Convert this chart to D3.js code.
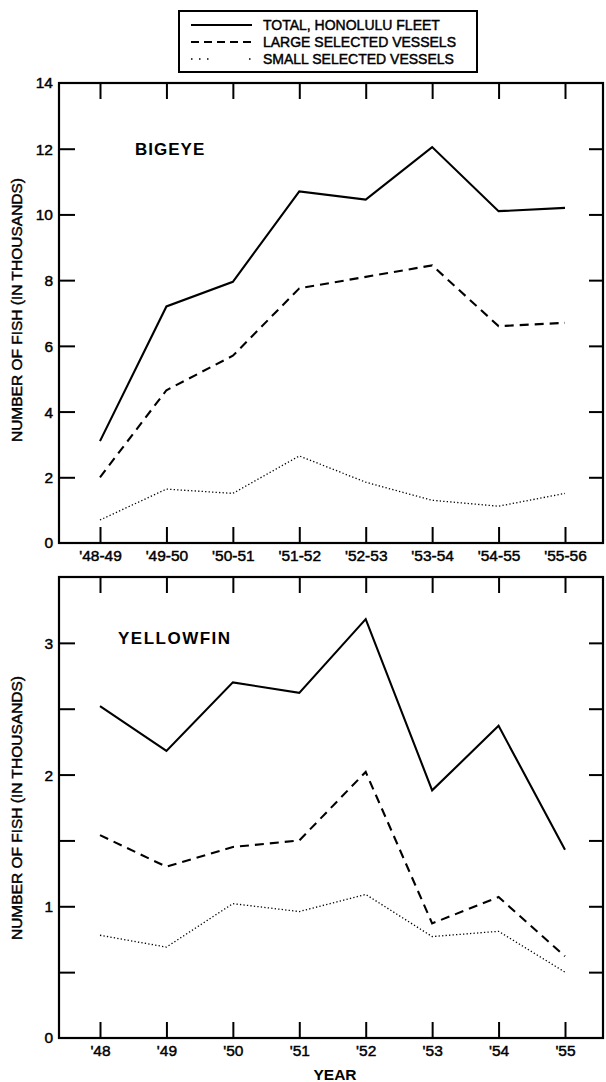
<!DOCTYPE html>
<html>
<head>
<meta charset="utf-8">
<script src="https://cdn.jsdelivr.net/npm/d3@7"></script>
<style>
  html, body { margin: 0; padding: 0; background: #fff; }
  svg { display: block; }
  text { font-family: "Liberation Sans", Arial, sans-serif; fill: #000; }
  .lettering { stroke: #000; stroke-width: 0.45px; }
</style>
</head>
<body>
<script>
// Season labels (bigeye) and calendar years (yellowfin)
const seasons = ["'48-49", "'49-50", "'50-51", "'51-52", "'52-53", "'53-54", "'54-55", "'55-56"];
const years = ["'48", "'49", "'50", "'51", "'52", "'53", "'54", "'55"];

// Bigeye catch, thousands of fish
const bigeyeTotal = [3.1, 7.2, 7.95, 10.7, 10.45, 12.05, 10.1, 10.2];
const bigeyeLarge = [2.0, 4.65, 5.7, 7.75, 8.1, 8.45, 6.6, 6.7];
const bigeyeSmall = [0.7, 1.64, 1.51, 2.65, 1.85, 1.3, 1.12, 1.51];

// Yellowfin catch, thousands of fish
const yellowfinTotal = [2.52, 2.18, 2.7, 2.62, 3.18, 1.88, 2.37, 1.43];
const yellowfinLarge = [1.54, 1.3, 1.45, 1.5, 2.02, 0.87, 1.07, 0.62];
const yellowfinSmall = [0.78, 0.69, 1.02, 0.96, 1.09, 0.77, 0.81, 0.5];

// Axis ticks
const bigeyeTicks = [0, 2, 4, 6, 8, 10, 12, 14];
const yellowfinTicks = [0, 0.5, 1, 1.5, 2, 2.5, 3];
const yellowfinTickLabels = { 0: "0", 1: "1", 2: "2", 3: "3" };

const legendItems = [
  { label: "TOTAL, HONOLULU FLEET", style: "solid" },
  { label: "LARGE SELECTED VESSELS", style: "dashed" },
  { label: "SMALL SELECTED VESSELS", style: "dotted" }
];

const W = 606, H = 1082;
const svg = d3.select("body").append("svg").attr("width", W).attr("height", H);

const frameLeft = 59, frameRight = 603;
const x = d3.scaleLinear().domain([0, 7]).range([100, 565]);

const lineStyles = {
  solid:  { width: 2.1, dash: null },
  dashed: { width: 2.1, dash: "9,6" },
  dotted: { width: 1.3, dash: "1.3,2.2" }
};

function panel(opts) {
  const { top, bottom, yMax, ticks, tickLabel, cats, series, title, titleX, titleY, titleSpacing, yLabelY } = opts;
  const y = d3.scaleLinear().domain([0, yMax]).range([bottom, top]);
  const g = svg.append("g");

  // frame
  g.append("rect")
    .attr("x", frameLeft).attr("y", top)
    .attr("width", frameRight - frameLeft).attr("height", bottom - top)
    .attr("fill", "none").attr("stroke", "#000").attr("stroke-width", 2.2);

  // left axis: inward ticks with labels
  const left = d3.axisLeft(y).tickValues(ticks.filter(t => t > 0 && t < yMax))
    .tickSizeInner(-16).tickSizeOuter(0).tickPadding(0).tickFormat(tickLabel);
  const la = g.append("g").attr("transform", `translate(${frameLeft},0)`).call(left);
  la.select(".domain").remove();
  la.selectAll("line").attr("stroke-width", 2);
  la.selectAll("text").attr("x", -6).attr("font-size", 15.5).attr("dy", "0.35em").attr("class", "lettering");

  // labels at axis ends
  [0, yMax].forEach(v => {
    const lbl = tickLabel(v);
    if (lbl) g.append("text").attr("class", "lettering").attr("x", frameLeft - 6).attr("y", y(v)).attr("dy", "0.35em")
      .attr("text-anchor", "end").attr("font-size", 15.5).text(lbl);
  });

  // right axis: inward ticks, no labels
  const right = d3.axisRight(y).tickValues(ticks.filter(t => t > 0 && t < yMax))
    .tickSizeInner(-14).tickSizeOuter(0).tickFormat("");
  const ra = g.append("g").attr("transform", `translate(${frameRight},0)`).call(right);
  ra.select(".domain").remove();
  ra.selectAll("line").attr("stroke-width", 2);

  // bottom axis: inward ticks with category labels
  const bottomAxis = d3.axisBottom(x).tickValues(d3.range(cats.length))
    .tickSizeInner(-16).tickSizeOuter(0).tickPadding(0).tickFormat(i => cats[i]);
  const ba = g.append("g").attr("transform", `translate(0,${bottom})`).call(bottomAxis);
  ba.select(".domain").remove();
  ba.selectAll("line").attr("stroke-width", 2);
  ba.selectAll("text").attr("y", 14).attr("dy", "0").attr("font-size", 15.5)
    .attr("dominant-baseline", "middle").attr("class", "lettering");

  // top axis: inward ticks
  const topAxis = d3.axisTop(x).tickValues(d3.range(cats.length))
    .tickSizeInner(-16).tickSizeOuter(0).tickFormat("");
  const ta = g.append("g").attr("transform", `translate(0,${top})`).call(topAxis);
  ta.select(".domain").remove();
  ta.selectAll("line").attr("stroke-width", 2);

  // series
  const line = d3.line().x((d, i) => x(i)).y(d => y(d));
  series.forEach(s => {
    const st = lineStyles[s.style];
    g.append("path").datum(s.values)
      .attr("d", line).attr("fill", "none").attr("stroke", "#000")
      .attr("stroke-width", st.width)
      .attr("stroke-dasharray", st.dash)
      .attr("stroke-linejoin", "miter");
  });

  // species title
  g.append("text").attr("x", titleX).attr("y", titleY).attr("dy", "0.35em")
    .attr("font-size", 17).attr("font-weight", "bold")
    .attr("letter-spacing", titleSpacing).text(title);

  // y axis title
  g.append("text").attr("class", "lettering")
    .attr("transform", `translate(17,${yLabelY}) rotate(-90)`)
    .attr("text-anchor", "middle").attr("dy", "0.35em")
    .attr("font-size", 15.5).text("NUMBER OF FISH (IN THOUSANDS)");
}

panel({
  top: 83, bottom: 543, yMax: 14, ticks: bigeyeTicks, tickLabel: v => String(v),
  cats: seasons,
  series: [
    { values: bigeyeTotal, style: "solid" },
    { values: bigeyeLarge, style: "dashed" },
    { values: bigeyeSmall, style: "dotted" }
  ],
  title: "BIGEYE", titleX: 135, titleY: 149, titleSpacing: 1, yLabelY: 310
});

panel({
  top: 577, bottom: 1038, yMax: 3.5, ticks: yellowfinTicks, tickLabel: v => yellowfinTickLabels[v] || "",
  cats: years,
  series: [
    { values: yellowfinTotal, style: "solid" },
    { values: yellowfinLarge, style: "dashed" },
    { values: yellowfinSmall, style: "dotted" }
  ],
  title: "YELLOWFIN", titleX: 118, titleY: 638, titleSpacing: 1.5, yLabelY: 808
});

// x axis title
svg.append("text").attr("x", 335).attr("y", 1075).attr("dy", "0.35em")
  .attr("text-anchor", "middle").attr("font-size", 15.5).attr("font-weight", "bold").text("YEAR");

// legend
const lg = svg.append("g");
lg.append("rect").attr("x", 179).attr("y", 11).attr("width", 298).attr("height", 61)
  .attr("fill", "none").attr("stroke", "#000").attr("stroke-width", 2);
const rowY = [25, 42, 59];
const legendDash = { solid: null, dashed: "8,5", dotted: "1.5,6.5,1.5,6.5,1.5,40.5,1.5,40" };
legendItems.forEach((d, i) => {
  const st = lineStyles[d.style];
  lg.append("line").attr("x1", 191).attr("x2", 252).attr("y1", rowY[i]).attr("y2", rowY[i])
    .attr("stroke", "#000").attr("stroke-width", d.style === "dotted" ? 1.6 : st.width)
    .attr("stroke-dasharray", legendDash[d.style]);
  lg.append("text").attr("class", "lettering").attr("x", 263).attr("y", rowY[i]).attr("dy", "0.35em")
    .attr("font-size", 14).text(d.label);
});
</script>
</body>
</html>
